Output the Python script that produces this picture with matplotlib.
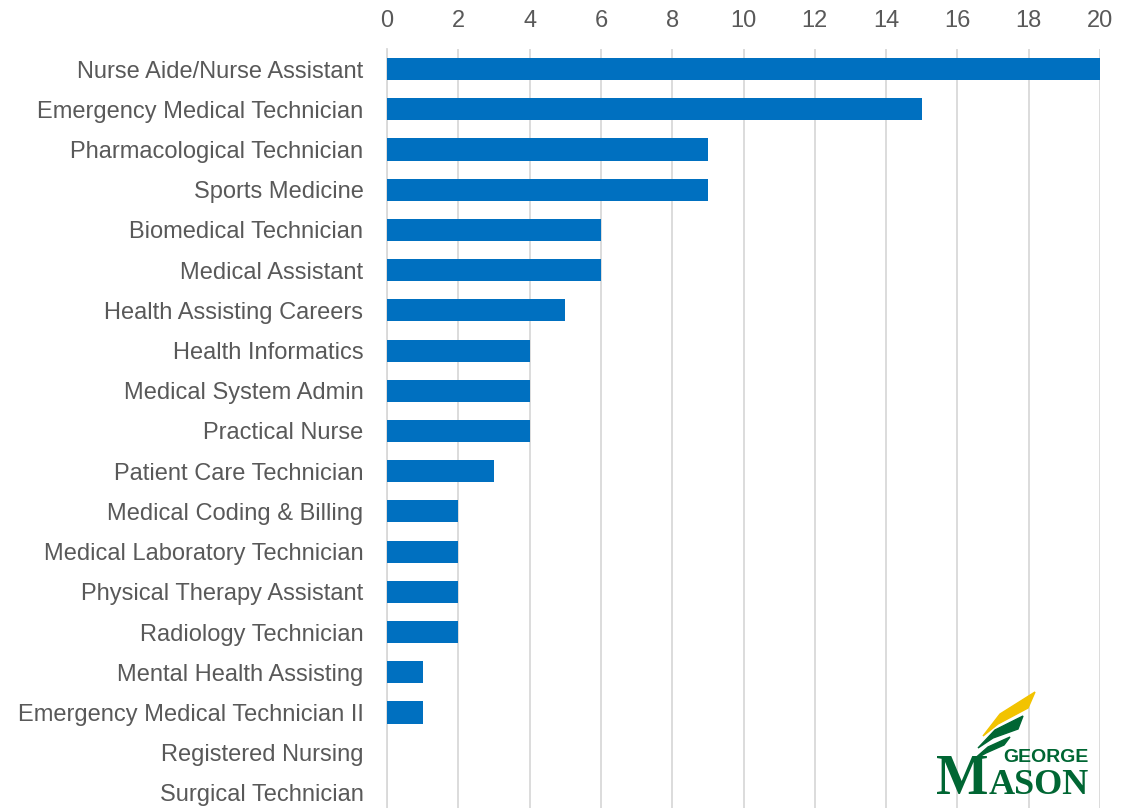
import matplotlib.pyplot as plt
import matplotlib.patches as mpatches

# programs, top to bottom
programs = [
    'Nurse Aide/Nurse Assistant',
    'Emergency Medical Technician',
    'Pharmacological Technician',
    'Sports Medicine',
    'Biomedical Technician',
    'Medical Assistant',
    'Health Assisting Careers',
    'Health Informatics',
    'Medical System Admin',
    'Practical Nurse',
    'Patient Care Technician',
    'Medical Coding & Billing',
    'Medical Laboratory Technician',
    'Physical Therapy Assistant',
    'Radiology Technician',
    'Mental Health Assisting',
    'Emergency Medical Technician II',
    'Registered Nursing',
    'Surgical Technician',
]
counts = [20, 15, 9, 9, 6, 6, 5, 4, 4, 4, 3, 2, 2, 2, 2, 1, 1, 0, 0]
x_ticks = [0, 2, 4, 6, 8, 10, 12, 14, 16, 18, 20]

text_color = '#595959'
bar_color = '#0070C0'
grid_color = '#D9D9D9'
W, H = 1128, 808

plt.rcParams['font.family'] = ['Liberation Sans', 'DejaVu Sans']

fig = plt.figure(figsize=(W / 100, H / 100), dpi=100)
ax = fig.add_axes([0.3431, -0.0062, 0.6321, 0.9456])

ypos = list(range(len(programs)))
ax.barh(ypos, counts, height=0.55, color=bar_color, zorder=3)
ax.set_ylim(len(programs) - 0.5, -0.5)
ax.set_xlim(0, 20)
ax.set_yticks(ypos)
ax.set_yticklabels(programs, fontsize=17, color=text_color)
ax.set_xticks(x_ticks)
ax.set_xticklabels([str(t) for t in x_ticks], fontsize=17, color=text_color)
ax.xaxis.tick_top()
ax.tick_params(axis='both', length=0)
ax.tick_params(axis='x', pad=12)
ax.tick_params(axis='y', pad=17)
ax.grid(axis='x', color=grid_color, linewidth=1.3)
ax.set_axisbelow(True)
for side in ['top', 'right', 'bottom']:
    ax.spines[side].set_visible(False)
ax.spines['left'].set_color(grid_color)
ax.spines['left'].set_linewidth(1.3)


# George Mason logo, rough sketch in pixel coords
def px(pts):
    return [(x / W, 1 - y / H) for x, y in pts]


green = '#006633'
gold = '#F2C300'
shapes = [
    (gold, [(983, 736), (1000, 714), (1035, 692), (1028, 708), (998, 724)]),
    (green, [(978, 748), (995, 730), (1023, 716), (1018, 729), (993, 738)]),
    (green, [(972, 761), (988, 747), (1010, 737), (1004, 745), (986, 753)]),
]
for col, pts in shapes:
    fig.patches.append(mpatches.Polygon(px(pts), closed=True, transform=fig.transFigure,
                                        color=col, zorder=5))
fig.text(1003 / W, 1 - 762 / H, 'GEORGE', fontsize=14, fontweight='bold', color=green)
fig.text(936 / W, 1 - 794 / H, 'M', fontsize=40, fontweight='bold', color=green,
         family=['Liberation Serif', 'DejaVu Serif'])
fig.text(989 / W, 1 - 794 / H, 'ASON', fontsize=26, fontweight='bold', color=green,
         family=['Liberation Serif', 'DejaVu Serif'])

fig.savefig('out.png', dpi=100)
